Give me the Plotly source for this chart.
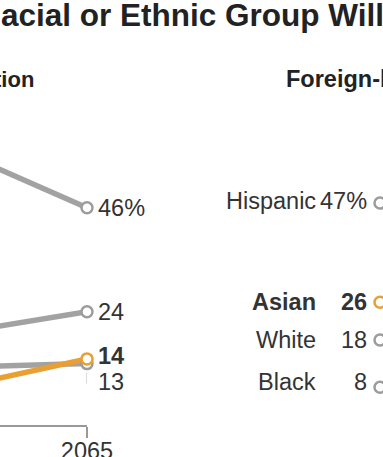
import plotly.graph_objects as go

# ---- data ----
us_years = [2015, 2065]
us_groups = ["White", "Hispanic", "Black", "Asian"]
us_white = [62, 46]
us_hispanic = [18, 24]
us_black = [12, 13]
us_asian = [6, 14]

fb_year = 2015
fb_groups = ["Hispanic", "Asian", "White", "Black"]
fb_values = [47, 26, 18, 8]

title_text = "acial or Ethnic Group Will"
left_panel_title = "U.S. population"
right_panel_title = "Foreign-born"

# ---- style ----
W, H = 383, 457
GRAY = "#a2a2a2"
RING = "#9c9c9c"
ORANGE = "#e99f32"
TXT = "#333333"
FONT = "Liberation Sans, Arial, sans-serif"
LBL = 23.5
PX_PER_YEAR = 3.44
LEFT_END_PX = 87
RIGHT_START_PX = 380

fig = go.Figure()

series = [
    ("White", us_white, GRAY, RING),
    ("Hispanic", us_hispanic, GRAY, RING),
    ("Black", us_black, GRAY, RING),
    ("Asian", us_asian, ORANGE, ORANGE),
]
for name, vals, col, ring in series:
    fig.add_trace(go.Scatter(
        x=us_years, y=vals, mode="lines", name=name,
        line=dict(color=col, width=5.5), xaxis="x", yaxis="y",
        hoverinfo="skip", showlegend=False))
for name, vals, col, ring in series:
    fig.add_trace(go.Scatter(
        x=[us_years[-1]], y=[vals[-1]], mode="markers", name=name,
        marker=dict(symbol="circle", size=11, color="white",
                    line=dict(color=ring, width=2.5)),
        xaxis="x", yaxis="y", cliponaxis=False,
        hoverinfo="skip", showlegend=False))

for g, v in zip(fb_groups, fb_values):
    ring = ORANGE if g == "Asian" else RING
    fig.add_trace(go.Scatter(
        x=[fb_year], y=[v], mode="markers", name=g,
        marker=dict(symbol="circle", size=11, color="white",
                    line=dict(color=ring, width=2.5)),
        xaxis="x2", yaxis="y", cliponaxis=False,
        hoverinfo="skip", showlegend=False))

ann = []
# title & panel titles
ann.append(dict(text=title_text, xref="paper", yref="paper", x=-0.002, y=1 + 5 / 425,
                xanchor="left", yanchor="top", showarrow=False,
                font=dict(family=FONT, size=31.5, color="#222222", weight="bold")))
ann.append(dict(text=left_panel_title, xref="paper", yref="paper", x=36 / W, y=(425 - 79) / 425,
                xanchor="right", yanchor="middle", showarrow=False,
                font=dict(family=FONT, size=22, color="#222222", weight="bold")))
ann.append(dict(text=right_panel_title, xref="paper", yref="paper", x=284 / W, y=(425 - 79) / 425,
                xanchor="left", yanchor="middle", showarrow=False,
                font=dict(family=FONT, size=23.5, color="#222222", weight="bold")))

# left end labels
end_labels = [
    (f"{us_white[-1]}%", us_white[-1], 0, False),
    (f"{us_hispanic[-1]}", us_hispanic[-1], 0, False),
    (f"{us_asian[-1]}", us_asian[-1], 3, True),
    (f"{us_black[-1]}", us_black[-1], -18, False),
]
for t, v, ys, bold in end_labels:
    ann.append(dict(text=t, xref="x", yref="y", x=us_years[-1], y=v,
                    xanchor="left", yanchor="middle", xshift=9, yshift=ys,
                    showarrow=False,
                    font=dict(family=FONT, size=LBL, color=TXT,
                              weight="bold" if bold else "normal")))

# right start labels
for g, v in zip(fb_groups, fb_values):
    bold = g == "Asian"
    vt = f"{v}%" if g == "Hispanic" else f"{v}"
    ys = 5 if g == "Black" else (2 if g == "Hispanic" else 0)
    ann.append(dict(text=vt, xref="x2", yref="y", x=fb_year, y=v,
                    xanchor="right", yanchor="middle", xshift=369 - RIGHT_START_PX, yshift=ys,
                    showarrow=False,
                    font=dict(family=FONT, size=LBL, color=TXT,
                              weight="bold" if bold else "normal")))
    ann.append(dict(text=g, xref="x2", yref="y", x=fb_year, y=v,
                    xanchor="right", yanchor="middle", xshift=318 - RIGHT_START_PX, yshift=ys,
                    showarrow=False,
                    font=dict(family=FONT, size=LBL, color=TXT,
                              weight="bold" if bold else "normal")))

shapes = [dict(type="path", xref="x", yref="y", xsizemode="pixel", ysizemode="pixel",
               xanchor=us_years[-1], yanchor=us_black[-1],
               path="M 0,-9 L 0,-20 L 5,-20", line=dict(color="#b5b5b5", width=1))]

fig.update_layout(
    width=W, height=H, margin=dict(l=0, r=0, t=0, b=32, autoexpand=False),
    paper_bgcolor="white", plot_bgcolor="white",
    showlegend=False, annotations=ann, shapes=shapes,
    xaxis=dict(domain=[0, LEFT_END_PX / W], automargin=False,
               range=[us_years[-1] - LEFT_END_PX / PX_PER_YEAR, us_years[-1]],
               showgrid=False, zeroline=False, showline=True,
               linecolor="#999999", linewidth=1.5,
               ticks="outside", ticklen=11, tickwidth=1.5, tickcolor="#999999",
               tickvals=[us_years[-1]], ticktext=[str(us_years[-1])],
               ticklabelstandoff=-7,
               tickfont=dict(family=FONT, size=LBL, color=TXT), fixedrange=True),
    xaxis2=dict(domain=[0.6, 1], anchor="y", automargin=False,
                range=[fb_year - (RIGHT_START_PX - 0.6 * W) / PX_PER_YEAR,
                       fb_year + (W - RIGHT_START_PX) / PX_PER_YEAR],
                showgrid=False, zeroline=False, showline=False,
                ticks="outside", ticklen=11, tickcolor="rgba(0,0,0,0)",
                tickvals=[fb_year], ticktext=[str(fb_year)],
                ticklabelstandoff=-7, ticklabelshift=3,
                tickfont=dict(family=FONT, size=LBL, color=TXT), fixedrange=True),
    yaxis=dict(domain=[0, 1], range=[0, 90], visible=False, fixedrange=True,
               automargin=False),
)

fig.write_html(
    "out.html",
    config={"displayModeBar": False},
    post_script=(
        "document.body.style.margin='0';"
        "document.body.style.overflow='hidden';"
        "document.documentElement.style.overflow='hidden';"
    ),
)
